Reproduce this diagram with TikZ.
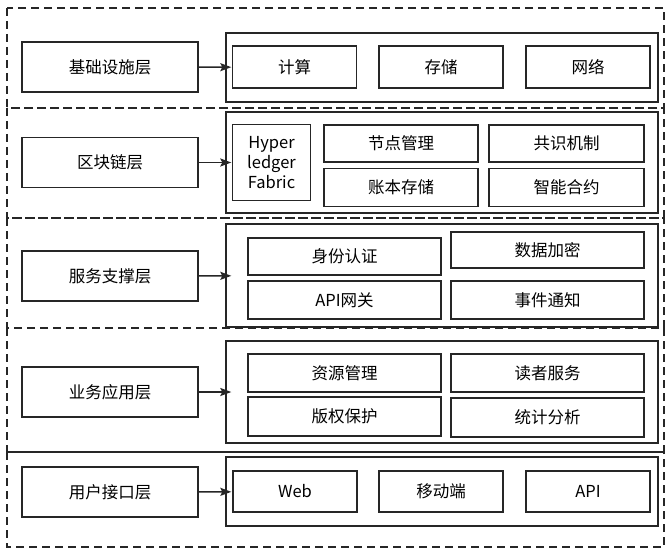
\documentclass[tikz,border=0pt]{standalone}
\usepackage{fontspec}
\setmainfont{Noto Sans CJK SC}
\usetikzlibrary{arrows.meta}

\begin{document}
\begin{tikzpicture}[x=1pt,y=-1pt,
  every node/.style={text=black,font=\fontsize{16.5}{20}\selectfont,inner sep=0pt},
  layer/.style={black!85,line width=1.5pt,dash pattern=on 8pt off 5pt},
  lbox/.style={draw=black!85,line width=1.6pt,minimum width=176,minimum height=50},
  cbox/.style={draw=black!85,line width=1.4pt,minimum width=432},
  ibox/.style={draw=black!85,line width=1.8pt},
  arr/.style={-{Stealth[length=11pt,width=8pt,inset=2pt]},line width=1.6pt,black!85,shorten >=-6pt}]
\useasboundingbox (0,0) rectangle (671,556);
\draw[layer] (7,8) rectangle (664,108);
\draw[layer] (7,108) rectangle (664,218);
\draw[layer] (7,218) rectangle (664,328);
\draw[layer] (7,328) rectangle (664,452);
\draw[layer] (7,452) rectangle (664,547);

\node[lbox] (1) at (110,67) {基础设施层};
\node[lbox] (2) at (110,162.5) {区块链层};
\node[lbox] (3) at (110,276) {服务支撑层};
\node[lbox] (4) at (110,392) {业务应用层};
\node[lbox] (5) at (110,492) {用户接口层};

\node[cbox,minimum height=69] (1c) at (442,67.5) {};
\node[cbox,minimum height=101] (2c) at (442,162.5) {};
\node[cbox,minimum height=103] (3c) at (442,275.5) {};
\node[cbox,minimum height=102] (4c) at (442,392) {};
\node[cbox,minimum height=69] (5c) at (442,491.5) {};

\node[ibox,minimum width=124,minimum height=42] (1a) at (294.5,67) {计算};
\node[ibox,minimum width=124,minimum height=42] (1b) at (441,67) {存储};
\node[ibox,minimum width=124,minimum height=42] (1d) at (588,67) {网络};

\node[ibox,minimum width=78,minimum height=76,align=center] (2a) at (271.5,162.5) {Hyper\\ledger\\Fabric};
\node[ibox,minimum width=154,minimum height=37] (2b) at (401,143.5) {节点管理};
\node[ibox,minimum width=154,minimum height=38] (2d) at (401,187.5) {账本存储};
\node[ibox,minimum width=155,minimum height=37] (2e) at (566.5,143.5) {共识机制};
\node[ibox,minimum width=155,minimum height=38] (2f) at (566.5,187.5) {智能合约};

\node[ibox,minimum width=193,minimum height=37] (3a) at (344.5,256.5) {身份认证};
\node[ibox,minimum width=193,minimum height=38] (3b) at (344.5,300) {API网关};
\node[ibox,minimum width=193,minimum height=36] (3d) at (547.5,250) {数据加密};
\node[ibox,minimum width=193,minimum height=38] (3e) at (547.5,300) {事件通知};

\node[ibox,minimum width=193,minimum height=38] (4a) at (344.5,373) {资源管理};
\node[ibox,minimum width=193,minimum height=39] (4b) at (344.5,416.5) {版权保护};
\node[ibox,minimum width=193,minimum height=38] (4d) at (547.5,373) {读者服务};
\node[ibox,minimum width=193,minimum height=39] (4e) at (547.5,417.5) {统计分析};

\node[ibox,minimum width=124,minimum height=41] (5a) at (295,491.5) {Web};
\node[ibox,minimum width=124,minimum height=41] (5b) at (441,491.5) {移动端};
\node[ibox,minimum width=124,minimum height=41] (5d) at (588,491.5) {API};

\draw[arr] (1) -- (1c);
\draw[arr] (2) -- (2c);
\draw[arr] (3) -- (3c);
\draw[arr] (4) -- (4c);
\draw[arr] (5) -- (5c);
\end{tikzpicture}
\end{document}
